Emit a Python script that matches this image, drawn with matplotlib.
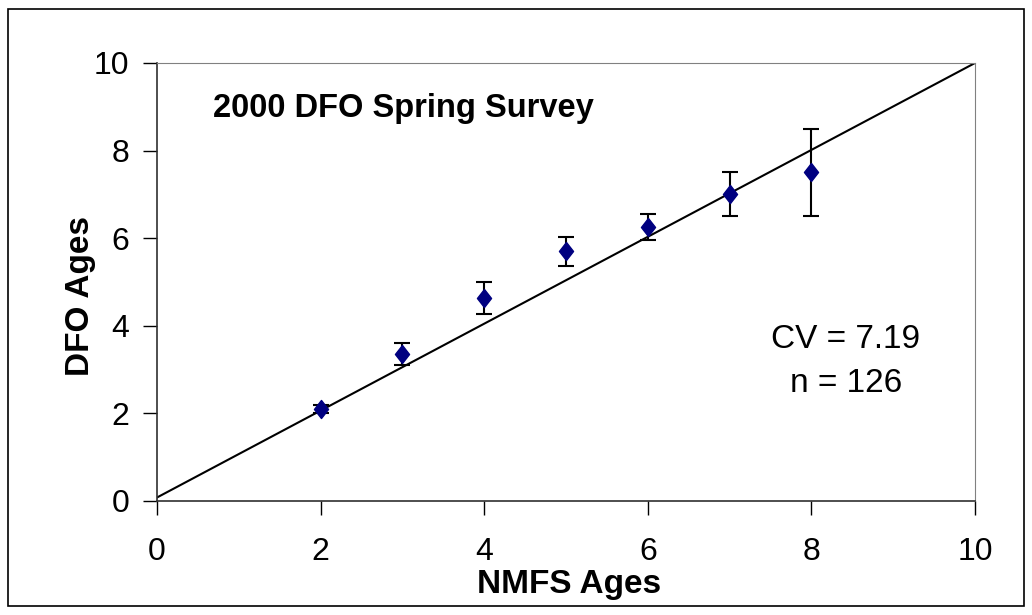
import numpy as np
import matplotlib
matplotlib.use("Agg")
from matplotlib import pyplot as plt
from matplotlib.patches import Rectangle
from matplotlib.path import Path

plt.rcParams['font.family'] = ['Liberation Sans', 'DejaVu Sans']

# data
nmfs_ages = [2, 3, 4, 5, 6, 7, 8]
dfo_ages = [2.10, 3.35, 4.63, 5.70, 6.25, 7.00, 7.50]
dfo_err = [0.10, 0.25, 0.37, 0.33, 0.30, 0.50, 1.00]
fit_x = [0, 10]
fit_y = [0.08, 10.0]

W, H = 1032, 615
fig = plt.figure(figsize=(W / 100, H / 100), dpi=100)
ax = fig.add_axes([157/W, 1 - 501/H, (975-157)/W, (501-63)/H])

# slightly tall diamond, like the Excel marker
diamond = Path([(0, 1), (0.78, 0), (0, -1), (-0.78, 0), (0, 1)],
               [Path.MOVETO, Path.LINETO, Path.LINETO, Path.LINETO, Path.CLOSEPOLY])

ax.plot(fit_x, fit_y, color='black', lw=1.5, zorder=2)
ax.errorbar(nmfs_ages, dfo_ages, yerr=dfo_err, fmt='none',
            ecolor='black', elinewidth=1.5, capsize=6, capthick=1.5, zorder=3)
ax.plot(nmfs_ages, dfo_ages, ls='none', marker=diamond, ms=13,
        color='#000080', mec='#000080', zorder=4)

ax.set_xlim(0, 10)
ax.set_ylim(0, 10)
ax.set_xticks(np.arange(0, 11, 2))
ax.set_yticks(np.arange(0, 11, 2))
ax.tick_params(direction='out', length=10, width=1, labelsize=23)
ax.tick_params(axis='x', pad=16)
ax.tick_params(axis='y', pad=10)
for s in ['top', 'right']:
    ax.spines[s].set_color('#808080')
for s in ['left', 'bottom']:
    ax.spines[s].set_color('#303030')
    ax.spines[s].set_linewidth(1.2)

# axis titles placed in figure pixels
fig.text(569/W, 1 - 585/H, "NMFS Ages", fontsize=24, fontweight='bold',
         ha='center', va='center')
fig.text(80/W, 1 - 296/H, "DFO Ages", fontsize=24, fontweight='bold',
         rotation=90, ha='center', va='center')

ax.text(0.685, 8.77, "2000 DFO Spring Survey", fontsize=23.5, fontweight='bold',
        ha='left', va='baseline')
ax.text(8.42, 3.49, "CV = 7.19", fontsize=24, ha='center', va='baseline')
ax.text(8.42, 2.49, "n = 126", fontsize=24, ha='center', va='baseline')

# outer frame around the chart
fig.patches.append(Rectangle((8/W, 1 - 606/H), 1016/W, 597/H,
                             transform=fig.transFigure, fill=False,
                             edgecolor='black', lw=1.2))

fig.savefig("out.png", dpi=100)
